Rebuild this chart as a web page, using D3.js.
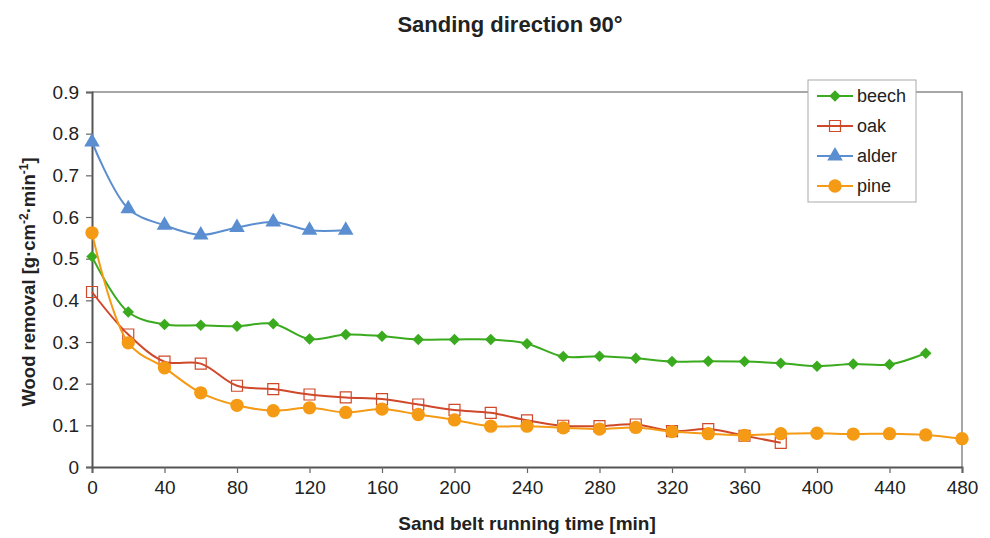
<!DOCTYPE html>
<html>
<head>
<meta charset="utf-8">
<script src="https://cdn.jsdelivr.net/npm/d3@7"></script>
<style>
  body { margin: 0; background: #fff; }
  svg text { font-family: "Liberation Sans", Arial, sans-serif; fill: #222; }
</style>
</head>
<body>
<svg id="chart" width="990" height="538"></svg>
<script>
// sanding time [min]
const times = d3.range(0, 481, 20);
const xTicks = [0, 40, 80, 120, 160, 200, 240, 280, 320, 360, 400, 440, 480];
const yTicks = [0, 0.1, 0.2, 0.3, 0.4, 0.5, 0.6, 0.7, 0.8, 0.9];

const beech = [0.505, 0.372, 0.342, 0.340, 0.338, 0.344, 0.307, 0.318, 0.314, 0.306, 0.306, 0.306,
  0.296, 0.265, 0.266, 0.261, 0.253, 0.254, 0.253, 0.249, 0.242, 0.247, 0.246, 0.273];
const oak = [0.420, 0.318, 0.253, 0.248, 0.195, 0.187, 0.174, 0.167, 0.163, 0.150, 0.137, 0.130,
  0.112, 0.099, 0.098, 0.102, 0.086, 0.091, 0.075, 0.058];
const alder = [0.780, 0.620, 0.580, 0.557, 0.575, 0.588, 0.568, 0.568];
const pine = [0.562, 0.298, 0.238, 0.178, 0.148, 0.135, 0.142, 0.131, 0.139, 0.126, 0.113, 0.098,
  0.098, 0.094, 0.091, 0.095, 0.085, 0.080, 0.076, 0.080, 0.081, 0.079, 0.080, 0.077, 0.068];

const series = [
  { name: "beech", values: beech, color: "#3aaa1e", marker: "diamond" },
  { name: "oak", values: oak, color: "#d0482a", marker: "square" },
  { name: "alder", values: alder, color: "#5a8ed0", marker: "triangle" },
  { name: "pine", values: pine, color: "#f59a14", marker: "circle" }
];

const margin = { top: 92, right: 28, bottom: 71, left: 92 };
const width = 990 - margin.left - margin.right;
const height = 538 - margin.top - margin.bottom;

const svg = d3.select("#chart");
const g = svg.append("g").attr("class", "chart").attr("transform", `translate(${margin.left},${margin.top})`);

const xScale = d3.scaleLinear().domain([0, 480]).range([0, width]);
const yScale = d3.scaleLinear().domain([0, 0.9]).range([height, 0]);

// frame (top + right)
g.append("path")
  .attr("d", `M0,0H${width}V${height}`)
  .attr("fill", "none")
  .attr("stroke", "#8a8a8a")
  .attr("stroke-width", 1.5);

const xAxis = g.append("g")
  .attr("transform", `translate(0,${height})`)
  .call(d3.axisBottom(xScale).tickValues(xTicks).tickSize(6).tickPadding(8).tickFormat(d3.format("d")));
xAxis.selectAll("text")
  .style("font-family", "'Liberation Sans Narrow', 'Liberation Sans', sans-serif")
  .style("font-size", "19px");

const yAxis = g.append("g")
  .call(d3.axisLeft(yScale).tickValues(yTicks).tickSize(6).tickPadding(7).tickFormat(d => d === 0 ? "0" : d3.format(".1f")(d)));
yAxis.selectAll("text").style("font-size", "19px");

[xAxis, yAxis].forEach(ax => {
  ax.select(".domain").attr("stroke", "#555").attr("stroke-width", 2);
  ax.selectAll(".tick line").attr("stroke", "#666").attr("stroke-width", 1.2);
});

const line = d3.line()
  .x((d, i) => xScale(times[i]))
  .y(d => yScale(d))
  .curve(d3.curveCatmullRom.alpha(0.5));

const symbolFor = {
  diamond: d3.symbol().type(d3.symbolSquare).size(66),
  square: d3.symbol().type(d3.symbolSquare).size(120),
  triangle: d3.symbol().type(d3.symbolTriangle).size(105),
  circle: d3.symbol().type(d3.symbolCircle).size(140)
};

function drawMarker(sel, s) {
  sel.attr("d", symbolFor[s.marker]())
    .attr("fill", s.marker === "square" ? "#fff" : s.color)
    .attr("fill-opacity", s.marker === "square" ? 0 : 1)
    .attr("stroke", s.color)
    .attr("stroke-width", s.marker === "square" ? 1.2 : 0);
}

const rot = s => s.marker === "diamond" ? " rotate(45)" : "";

series.forEach(s => {
  const sg = g.append("g").attr("class", "series " + s.name);
  sg.append("path")
    .datum(s.values)
    .attr("d", line)
    .attr("fill", "none")
    .attr("stroke", s.color)
    .attr("stroke-width", 2);
  sg.selectAll("path.marker")
    .data(s.values)
    .join("path")
    .attr("class", "marker")
    .attr("transform", (d, i) => `translate(${xScale(times[i])},${yScale(d)})` + rot(s))
    .each(function () { drawMarker(d3.select(this), s); });
});

// legend
const legend = svg.append("g").attr("transform", "translate(808,80)");
legend.append("rect")
  .attr("width", 108).attr("height", 122)
  .attr("fill", "#fff").attr("stroke", "#aaa").attr("stroke-width", 1);
series.forEach((s, i) => {
  const row = legend.append("g").attr("transform", `translate(0,${16 + i * 30})`);
  row.append("line").attr("x1", 9).attr("x2", 45).attr("stroke", s.color).attr("stroke-width", 2);
  row.append("path").attr("transform", "translate(27,0)" + rot(s)).each(function () { drawMarker(d3.select(this), s); });
  row.append("text").attr("x", 49).attr("y", 6).style("font-size", "18px").text(s.name);
});

// titles
svg.append("text")
  .attr("x", 510).attr("y", 32)
  .attr("text-anchor", "middle")
  .style("font-size", "22px").style("font-weight", "bold")
  .text("Sanding direction 90°");

svg.append("text")
  .attr("x", 527).attr("y", 530)
  .attr("text-anchor", "middle")
  .style("font-size", "19px").style("font-weight", "bold")
  .text("Sand belt running time [min]");

const yLab = svg.append("text")
  .attr("transform", "translate(35,282) rotate(-90)")
  .attr("text-anchor", "middle")
  .style("font-size", "18.5px").style("font-weight", "bold");
yLab.append("tspan").text("Wood removal [g·cm");
yLab.append("tspan").attr("dy", -7).style("font-size", "12px").text("-2");
yLab.append("tspan").attr("dy", 7).text("·min");
yLab.append("tspan").attr("dy", -7).style("font-size", "12px").text("-1");
yLab.append("tspan").attr("dy", 7).text("]");
</script>
</body>
</html>
